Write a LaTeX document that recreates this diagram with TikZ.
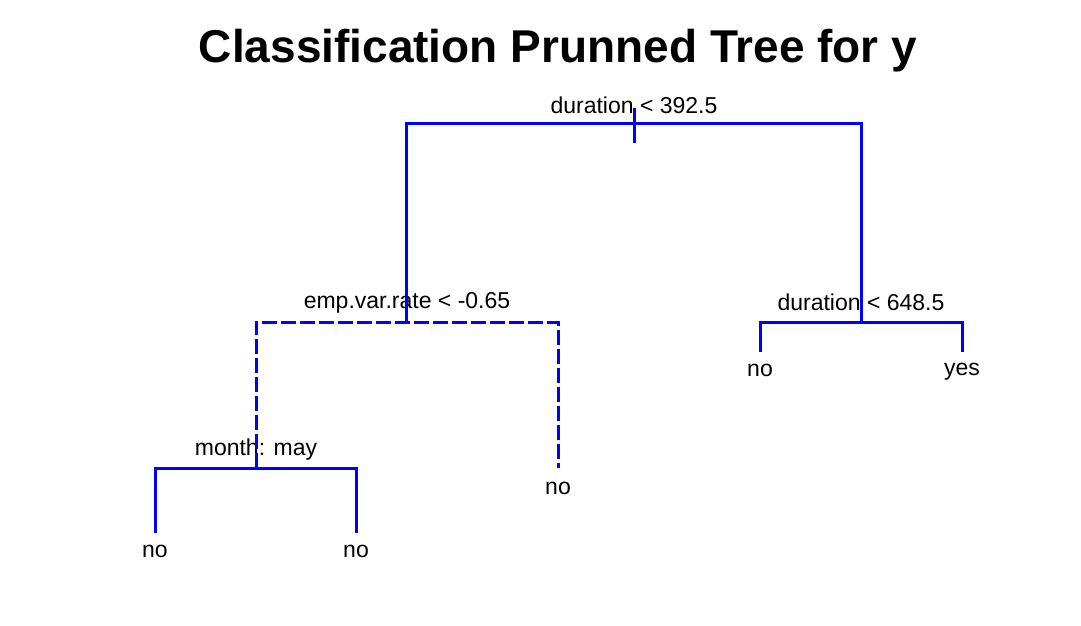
\documentclass[tikz,border=0pt]{standalone}
\usepackage{fontspec}
\setmainfont{Liberation Sans}
\usepackage{tikz}

\begin{document}
\begin{tikzpicture}[
  x=0.5pt,y=-0.5pt,
  branch/.style={draw=blue,line width=1.5pt,line cap=butt},
  pruned/.style={branch,dash pattern=on 7.5pt off 2pt},
  split/.style={anchor=base,inner sep=0pt,font=\fontsize{11.5}{13}\selectfont},
  leaf/.style={anchor=base,inner sep=0pt,font=\fontsize{11.5}{13}\selectfont},
  title/.style={anchor=base,inner sep=0pt,font=\fontsize{23}{27}\selectfont\bfseries}
]
\useasboundingbox (0,0) rectangle (1081,626);

\node[title] (ttl) at (558,63) {Classification Prunned Tree for y};

% split points
\coordinate (r) at (634,124);
\coordinate (rtop) at (634,108);
\coordinate (rbot) at (634,143);
\coordinate (a) at (406,322);
\coordinate (b) at (861,322);
\coordinate (c) at (256,468);
\coordinate (d) at (558,468);
\coordinate (l1) at (155,533);
\coordinate (l2) at (356,533);
\coordinate (l3) at (760,352);
\coordinate (l4) at (962,352);

\node[split] (sr) at (634,113) {duration < 392.5};
\node[split] (sa) at (407,308.5) {emp.var.rate < -0.65};
\node[split] (sb) at (861,310.5) {duration < 648.5};
\node[split] (sc) at (256,455) {month: may};

\node[leaf] (n1) at (155,557) {no};
\node[leaf] (n2) at (356,557) {no};
\node[leaf] (n3) at (558,494) {no};
\node[leaf] (n4) at (760,376) {no};
\node[leaf] (n5) at (962,375) {yes};

\draw[branch] (a) |- (r) -| (b);
\draw[branch] (rtop) -- (rbot);
\draw[pruned] (c) |- (a) -| (d);
\draw[branch] (l1) |- (c) -| (l2);
\draw[branch] (l3) |- (b) -| (l4);
\end{tikzpicture}
\end{document}
